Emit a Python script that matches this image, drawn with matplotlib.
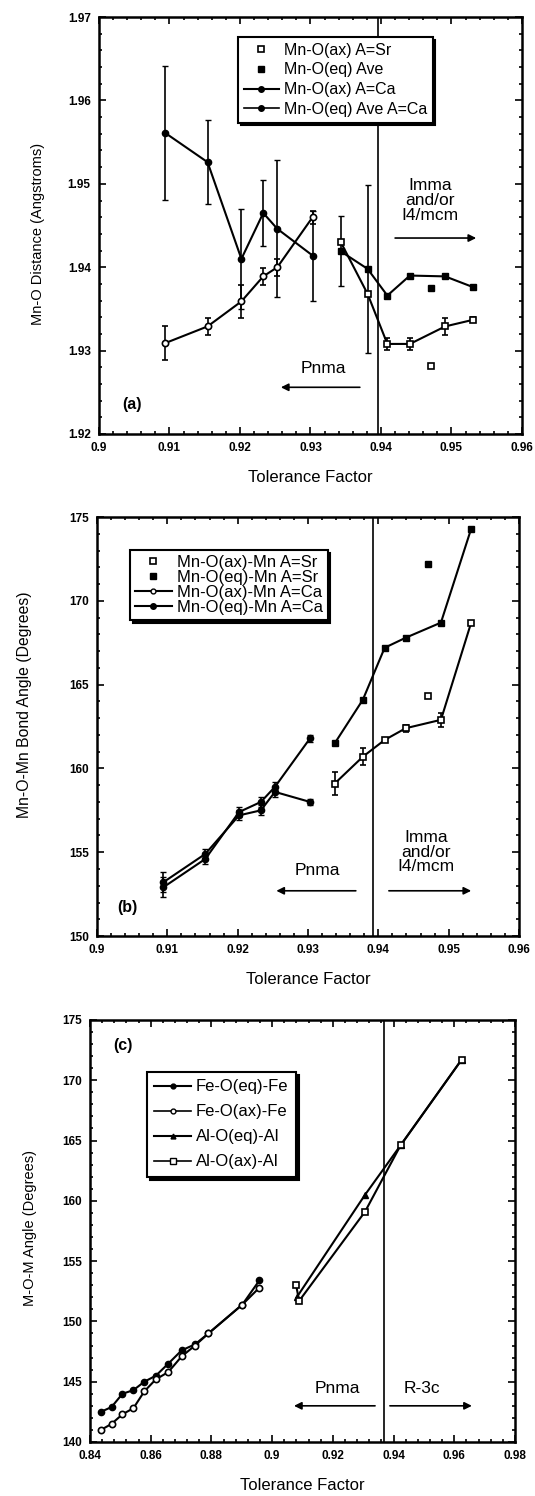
import matplotlib
matplotlib.use("Agg")
from matplotlib import pyplot as plt
from matplotlib.ticker import MultipleLocator, FormatStrFormatter

plt.rcParams['font.family'] = ['Liberation Sans', 'DejaVu Sans']

# ---- panel (a): Mn-O distances ----
ca_t = [0.9094, 0.9154, 0.9202, 0.9233, 0.9253, 0.9303]
ca_ax_d = [1.9309, 1.9329, 1.9359, 1.9389, 1.9400, 1.9460]
ca_ax_err = [0.0020, 0.0010, 0.0020, 0.0010, 0.0010, 0.0008]
ca_eq_d = [1.9561, 1.9526, 1.9410, 1.9465, 1.9446, 1.9414]
ca_eq_err = [0.0080, 0.0050, 0.0060, 0.0040, 0.0082, 0.0054]

sr_t = [0.9343, 0.9381, 0.9409, 0.9441, 0.9491, 0.9531]
sr_ax_d = [1.9430, 1.9368, 1.9308, 1.9308, 1.9329, 1.9337]
sr_ax_err = [0.0, 0.0, 0.0007, 0.0007, 0.0010, 0.0003]
sr_eq_d = [1.9419, 1.9398, 1.9366, 1.9390, 1.9389, 1.9376]
sr_eq_err = [0.0042, 0.0101, 0.0, 0.0, 0.0, 0.0]
sr_extra_t = [0.9471]
sr_extra_ax_d = [1.9282]
sr_extra_eq_d = [1.9375]

# ---- panel (b): Mn-O-Mn angles ----
ca_ax_ang = [153.2, 154.9, 157.2, 157.5, 158.6, 158.0]
ca_eq_ang = [152.9, 154.6, 157.4, 158.0, 158.9, 161.8]
ca_ang_err = [0.6, 0.3, 0.3, 0.3, 0.3, 0.2]

sr_t_b = [0.9338, 0.9378, 0.9409, 0.9439, 0.9489, 0.9532]
sr_ax_ang = [159.1, 160.7, 161.7, 162.4, 162.9, 168.7]
sr_ax_ang_err = [0.7, 0.5, 0.1, 0.2, 0.4, 0.1]
sr_eq_ang = [161.5, 164.1, 167.2, 167.8, 168.7, 174.3]
sr_extra_t_b = [0.9470]
sr_extra_ax_ang = [164.3]
sr_extra_eq_ang = [172.2]

# ---- panel (c): M-O-M angles ----
fe_t = [0.8436, 0.8471, 0.8507, 0.8543, 0.8579, 0.8617, 0.8658, 0.8702,
        0.8746, 0.8790, 0.8902, 0.8958]
fe_eq = [142.5, 142.9, 144.0, 144.3, 145.0, 145.5, 146.5, 147.6,
         148.1, 149.0, 151.4, 153.4]
fe_ax = [141.0, 141.5, 142.3, 142.8, 144.2, 145.2, 145.8, 147.1,
         148.0, 149.0, 151.4, 152.8]
al_eq_t = [0.9081, 0.9306, 0.9423, 0.9624]
al_eq = [152.0, 160.5, 164.6, 171.7]
al_ax_t = [0.9079, 0.9089, 0.9306, 0.9423, 0.9624]
al_ax = [153.0, 151.7, 159.1, 164.6, 171.7]

fig = plt.figure(figsize=(5.35, 14.96), dpi=100)
ax_a = fig.add_axes([0.185, 0.7099, 0.7907, 0.2787])
ax_b = fig.add_axes([0.1813, 0.3743, 0.7888, 0.2801])
ax_c = fig.add_axes([0.1682, 0.0361, 0.7944, 0.2821])

lw = 1.5
ms = 4.5
txt = 12.5   # phase labels
leg_shadow = {'color': 'black', 'alpha': 1.0, 'ox': 2, 'oy': -2}


def style(ax, xmaj, xmin, ymaj, ymin, xfmt, yfmt):
    ax.xaxis.set_major_locator(MultipleLocator(xmaj))
    ax.xaxis.set_minor_locator(MultipleLocator(xmin))
    ax.yaxis.set_major_locator(MultipleLocator(ymaj))
    ax.yaxis.set_minor_locator(MultipleLocator(ymin))
    ax.xaxis.set_major_formatter(FormatStrFormatter(xfmt))
    ax.yaxis.set_major_formatter(FormatStrFormatter(yfmt))
    ax.tick_params(which='both', direction='in', top=True, right=True,
                   width=1.2, labelsize=8.5)
    ax.tick_params(which='major', length=5, pad=6)
    ax.tick_params(which='minor', length=2.5)
    for lab in ax.get_xticklabels() + ax.get_yticklabels():
        lab.set_fontweight('bold')
    for s in ax.spines.values():
        s.set_linewidth(1.8)
    ax.set_xlabel("Tolerance Factor", fontsize=12, labelpad=11)


def phase_arrow(ax, x0, x1, y):
    ax.annotate('', xy=(x1, y), xytext=(x0, y),
                arrowprops=dict(arrowstyle='-|>', color='black', lw=1.2,
                                mutation_scale=11, shrinkA=0, shrinkB=0))


def legend(ax, handles, labels, anchor, size, spacing, pad):
    leg = ax.legend(handles, labels, loc='upper left', bbox_to_anchor=anchor,
                    borderaxespad=0, fontsize=size, labelspacing=spacing,
                    handlelength=2.2, handletextpad=0.3, borderpad=pad,
                    fancybox=False, edgecolor='black', framealpha=1,
                    shadow=leg_shadow)
    leg.get_frame().set_linewidth(1.5)


# ---------------- (a) ----------------
ax = ax_a
ax.errorbar(ca_t, ca_eq_d, yerr=ca_eq_err, color='black', lw=lw,
            marker='o', ms=ms, mfc='black', capsize=2, elinewidth=1.2, zorder=3)
ax.errorbar(ca_t, ca_ax_d, yerr=ca_ax_err, color='black', lw=lw,
            marker='o', ms=ms, mfc='white', mew=1.2, capsize=2, elinewidth=1.2, zorder=3)
ax.errorbar(sr_t, sr_eq_d, yerr=sr_eq_err, color='black', lw=lw,
            marker='s', ms=ms, mfc='black', capsize=2, elinewidth=1.2, zorder=3)
ax.errorbar(sr_t, sr_ax_d, yerr=sr_ax_err, color='black', lw=lw,
            marker='s', ms=ms, mfc='white', mew=1.2, capsize=2, elinewidth=1.2, zorder=4)
ax.plot(sr_extra_t, sr_extra_eq_d, ls='none', marker='s', ms=ms, color='black')
ax.plot(sr_extra_t, sr_extra_ax_d, ls='none', marker='s', ms=ms,
        mfc='white', mec='black', mew=1.2)
h1, = ax.plot([], [], ls='none', marker='s', ms=4, mfc='white', mec='black', mew=1.2)
h2, = ax.plot([], [], ls='none', marker='s', ms=4, color='black')
h3, = ax.plot([], [], color='black', lw=lw, marker='o', ms=4)
h4, = ax.plot([], [], color='black', lw=1.2, marker='o', ms=4)
legend(ax, [h1, h2, h3, h4],
       ["Mn-O(ax) A=Sr", "Mn-O(eq) Ave", "Mn-O(ax) A=Ca", "Mn-O(eq) Ave A=Ca"],
       (0.329, 0.952), 11.5, 0.3, 0.35)
ax.axvline(0.9396, color='black', lw=1.2)
ax.text(0.9318, 1.9279, "Pnma", ha='center', va='center', fontsize=txt)
phase_arrow(ax, 0.9370, 0.9258, 1.9256)
ax.text(0.9470, 1.9480, "Imma\nand/or\nI4/mcm", ha='center', va='center',
        fontsize=txt, linespacing=0.96)
phase_arrow(ax, 0.9420, 0.9535, 1.9435)
ax.text(0.9047, 1.9235, "(a)", ha='center', va='center', fontsize=11.5,
        fontweight='bold')
ax.set_xlim(0.9, 0.96)
ax.set_ylim(1.92, 1.97)
style(ax, 0.01, 0.002, 0.01, 0.002, '%g', '%.2f')
ax.set_ylabel("Mn-O Distance (Angstroms)", fontsize=10.5)
ax.yaxis.set_label_coords(-0.128, 0.48)

# ---------------- (b) ----------------
ax = ax_b
ax.errorbar(ca_t, ca_eq_ang, yerr=ca_ang_err, color='black', lw=lw,
            marker='o', ms=ms, mfc='black', capsize=2, elinewidth=1.2, zorder=3)
ax.errorbar(ca_t, ca_ax_ang, yerr=ca_ang_err, color='black', lw=lw,
            marker='o', ms=ms, mfc='black', capsize=2, elinewidth=1.2, zorder=3)
ax.errorbar(sr_t_b, sr_eq_ang, color='black', lw=lw,
            marker='s', ms=ms, mfc='black', zorder=3)
ax.errorbar(sr_t_b, sr_ax_ang, yerr=sr_ax_ang_err, color='black', lw=lw,
            marker='s', ms=ms, mfc='white', mew=1.2, capsize=2, elinewidth=1.2, zorder=3)
ax.plot(sr_extra_t_b, sr_extra_eq_ang, ls='none', marker='s', ms=ms + 0.5, color='black')
ax.plot(sr_extra_t_b, sr_extra_ax_ang, ls='none', marker='s', ms=ms,
        mfc='white', mec='black', mew=1.2)
g1, = ax.plot([], [], ls='none', marker='s', ms=4, mfc='white', mec='black', mew=1.2)
g2, = ax.plot([], [], ls='none', marker='s', ms=4, color='black')
g3, = ax.plot([], [], color='black', lw=lw, marker='o', ms=3.5, mfc='white')
g4, = ax.plot([], [], color='black', lw=lw, marker='o', ms=4)
legend(ax, [g1, g2, g3, g4],
       ["Mn-O(ax)-Mn A=Sr", "Mn-O(eq)-Mn A=Sr", "Mn-O(ax)-Mn A=Ca",
        "Mn-O(eq)-Mn A=Ca"],
       (0.078, 0.921), 12, 0.0, 0.3)
ax.axvline(0.9393, color='black', lw=1.2)
ax.text(0.9313, 153.9, "Pnma", ha='center', va='center', fontsize=txt)
phase_arrow(ax, 0.9368, 0.9255, 152.7)
ax.text(0.9468, 155.0, "Imma\nand/or\nI4/mcm", ha='center', va='center',
        fontsize=txt, linespacing=0.96)
phase_arrow(ax, 0.9415, 0.9532, 152.7)
ax.text(0.9043, 151.7, "(b)", ha='center', va='center', fontsize=11.5,
        fontweight='bold')
ax.set_xlim(0.9, 0.96)
ax.set_ylim(150, 175)
style(ax, 0.01, 0.002, 5, 1, '%g', '%d')
ax.set_ylabel("Mn-O-Mn Bond Angle (Degrees)", fontsize=11.3)
ax.yaxis.set_label_coords(-0.154, 0.551)

# ---------------- (c) ----------------
ax = ax_c
ax.plot(fe_t, fe_eq, color='black', lw=lw, marker='o', ms=ms, zorder=3)
ax.plot(fe_t, fe_ax, color='black', lw=lw, marker='o', ms=ms,
        mfc='white', mew=1.2, zorder=3)
ax.plot(al_eq_t, al_eq, color='black', lw=lw, marker='^', ms=ms, zorder=3)
ax.plot(al_ax_t, al_ax, color='black', lw=lw, marker='s', ms=ms,
        mfc='white', mew=1.2, zorder=3)
k1, = ax.plot([], [], color='black', lw=lw, marker='o', ms=3.5)
k2, = ax.plot([], [], color='black', lw=1.2, marker='o', ms=3.5, mfc='white')
k3, = ax.plot([], [], color='black', lw=lw, marker='^', ms=3.5)
k4, = ax.plot([], [], color='black', lw=1.2, marker='s', ms=4, mfc='white')
legend(ax, [k1, k2, k3, k4],
       ["Fe-O(eq)-Fe", "Fe-O(ax)-Fe", "Al-O(eq)-Al", "Al-O(ax)-Al"],
       (0.134, 0.877), 12, 0.6, 0.45)
ax.axvline(0.9368, color='black', lw=1.2)
ax.text(0.9214, 144.4, "Pnma", ha='center', va='center', fontsize=txt)
phase_arrow(ax, 0.9339, 0.9072, 143.0)
ax.text(0.9495, 144.4, "R-3c", ha='center', va='center', fontsize=txt)
phase_arrow(ax, 0.9388, 0.9658, 143.0)
ax.text(0.8510, 172.9, "(c)", ha='center', va='center', fontsize=11.5,
        fontweight='bold')
ax.set_xlim(0.84, 0.98)
ax.set_ylim(140, 175)
style(ax, 0.02, 0.004, 5, 1, '%g', '%d')
ax.set_ylabel("M-O-M Angle (Degrees)", fontsize=10.5)
ax.yaxis.set_label_coords(-0.125, 0.507)

fig.savefig("out.png", dpi=100)
